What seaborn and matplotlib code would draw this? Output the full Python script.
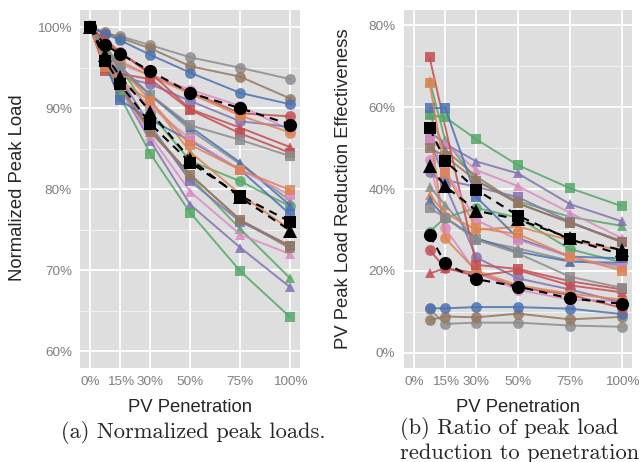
import matplotlib
matplotlib.use("Agg")
import matplotlib.pyplot as plt
import numpy as np
import pandas as pd
import seaborn as sns

# ---------------- data ----------------
pen_left = [0, 7.5, 15, 30, 50, 75, 100]
pen_right = [7.5, 15, 30, 50, 75, 100]
xtick_pos = [0, 15, 30, 50, 75, 100]
xtick_labels = ["0%", "15%", "30%", "50%", "75%", "100%"]
ytick_left = [60, 70, 80, 90, 100]
ytick_right = [0, 20, 40, 60, 80]

# normalized peak load (%) at pen_left
norm_gray_o   = [100, 99.2, 98.9, 97.8, 96.3, 95.0, 93.6]
norm_brown_o  = [100, 99.4, 98.7, 97.4, 95.2, 93.9, 91.2]
norm_blue_o   = [100, 99.2, 98.4, 96.6, 94.4, 91.9, 90.5]
norm_red_o    = [100, 98.1, 96.9, 94.2, 92.0, 89.4, 89.0]
norm_pink_o   = [100, 96.5, 95.4, 94.1, 92.3, 90.3, 87.3]
norm_purple_o = [100, 96.7, 93.9, 93.0, 90.9, 88.4, 87.7]
norm_green_o  = [100, 97.8, 95.1, 89.4, 83.5, 81.0, 77.9]
norm_orange_o = [100, 95.9, 95.8, 94.0, 91.8, 89.1, 87.0]
norm_gray_t   = [100, 97.0, 94.6, 91.7, 87.3, 83.1, 78.6]
norm_orange_t = [100, 97.1, 94.9, 91.0, 84.6, 79.4, 75.0]
norm_green_t  = [100, 95.0, 92.2, 87.4, 81.5, 75.1, 69.0]
norm_red_t    = [100, 98.5, 96.9, 94.4, 89.9, 87.6, 85.2]
norm_blue_t   = [100, 97.2, 95.1, 91.6, 87.7, 83.3, 78.0]
norm_purple_t = [100, 96.0, 92.4, 86.0, 78.1, 72.8, 67.9]
norm_pink_t   = [100, 96.2, 92.3, 86.6, 79.7, 74.4, 72.0]
norm_brown_t  = [100, 95.6, 92.6, 87.1, 81.8, 76.2, 72.7]
norm_red_s    = [100, 94.6, np.nan, 93.6, 89.8, 86.9, 84.5]
norm_green_s  = [100, 95.7, 91.4, 84.4, 77.1, 69.9, 64.2]
norm_blue_s   = [100, 95.5, 91.0, 88.6, 86.0, 82.4, 76.9]
norm_purple_s = [100, 96.1, 93.7, 87.9, 81.0, 76.0, 73.0]
norm_pink_s   = [100, 96.1, 93.3, 90.3, 86.2, 82.4, 79.3]
norm_brown_s  = [100, 96.3, 92.8, 87.4, 81.8, 76.2, 73.0]
norm_gray_s   = [100, 97.4, 95.1, 91.7, 87.9, 86.1, 84.1]
norm_orange_s = [100, 95.1, 93.4, 90.9, 85.5, 82.4, 79.9]
norm_mean_o   = [100, 97.8, 96.7, 94.6, 91.9, 90.0, 88.0]
norm_mean_t   = [100, 96.6, 93.9, 89.6, 83.7, 79.0, 74.9]
norm_mean_s   = [100, 95.9, 93.0, 88.1, 83.3, 79.2, 76.0]

# peak load reduction effectiveness (%) at pen_right
eff_gray_o   = [10.7, 7.1, 7.4, 7.4, 6.7, 6.4]
eff_brown_o  = [8.0, 8.9, 8.7, 9.6, 8.2, 8.8]
eff_blue_o   = [10.9, 10.9, 11.2, 11.2, 10.8, 9.5]
eff_red_o    = [25.1, 20.7, 19.5, 16.0, 14.2, 11.0]
eff_pink_o   = [47.0, 30.4, 19.6, 15.4, 13.0, 12.7]
eff_purple_o = [44.2, 41.0, 23.3, 18.2, 15.5, 12.3]
eff_green_o  = [29.6, 33.0, 35.4, 33.0, 25.3, 22.1]
eff_orange_o = [55.0, 28.0, 20.0, 16.5, 14.5, 13.0]
eff_gray_t   = [40.6, 36.1, 27.6, 25.5, 22.5, 21.4]
eff_orange_t = [38.5, 34.1, 30.0, 30.8, 27.5, 25.0]
eff_green_t  = [66.4, 52.0, 42.0, 37.0, 33.2, 31.0]
eff_red_t    = [19.4, 20.7, 18.8, 20.2, 16.5, 14.8]
eff_blue_t   = [37.3, 33.0, 28.0, 24.7, 22.3, 22.0]
eff_purple_t = [54.0, 51.0, 46.7, 43.8, 36.3, 32.1]
eff_pink_t   = [50.5, 51.1, 44.6, 40.7, 34.2, 28.0]
eff_brown_t  = [58.3, 49.5, 43.0, 36.5, 31.8, 27.3]
eff_red_s    = [72.1, np.nan, 21.5, 20.5, 17.5, 15.5]
eff_green_s  = [58.0, 57.5, 52.1, 45.8, 40.2, 35.8]
eff_blue_s   = [59.7, 59.8, 38.0, 28.0, 23.5, 23.1]
eff_purple_s = [52.0, 42.2, 40.5, 38.0, 32.0, 27.0]
eff_pink_s   = [52.2, 44.5, 32.4, 27.6, 23.5, 20.7]
eff_brown_s  = [50.0, 48.0, 42.0, 36.5, 31.8, 27.0]
eff_gray_s   = [35.4, 33.0, 27.6, 24.3, 18.6, 15.9]
eff_orange_s = [65.8, 44.0, 30.5, 29.0, 23.5, 20.1]
eff_mean_o   = [28.8, 21.9, 18.0, 16.2, 13.3, 12.0]
eff_mean_t   = [45.6, 40.7, 34.7, 32.6, 28.0, 25.1]
eff_mean_s   = [54.8, 46.9, 39.8, 33.5, 27.7, 24.0]

colors = {
    "blue": "#4C72B0", "orange": "#DD8452", "green": "#55A868", "red": "#C44E52",
    "purple": "#8172B3", "brown": "#937860", "pink": "#DA8BC3", "gray": "#8C8C8C",
    "mean": "#000000",
}

series = [
    ("gray", "o", norm_gray_o, eff_gray_o), ("brown", "o", norm_brown_o, eff_brown_o),
    ("blue", "o", norm_blue_o, eff_blue_o), ("red", "o", norm_red_o, eff_red_o),
    ("pink", "o", norm_pink_o, eff_pink_o), ("purple", "o", norm_purple_o, eff_purple_o),
    ("green", "o", norm_green_o, eff_green_o), ("orange", "o", norm_orange_o, eff_orange_o),
    ("gray", "^", norm_gray_t, eff_gray_t), ("orange", "^", norm_orange_t, eff_orange_t),
    ("green", "^", norm_green_t, eff_green_t), ("red", "^", norm_red_t, eff_red_t),
    ("blue", "^", norm_blue_t, eff_blue_t), ("purple", "^", norm_purple_t, eff_purple_t),
    ("pink", "^", norm_pink_t, eff_pink_t), ("brown", "^", norm_brown_t, eff_brown_t),
    ("red", "s", norm_red_s, eff_red_s), ("green", "s", norm_green_s, eff_green_s),
    ("blue", "s", norm_blue_s, eff_blue_s), ("purple", "s", norm_purple_s, eff_purple_s),
    ("pink", "s", norm_pink_s, eff_pink_s), ("brown", "s", norm_brown_s, eff_brown_s),
    ("gray", "s", norm_gray_s, eff_gray_s), ("orange", "s", norm_orange_s, eff_orange_s),
]
means = [("mean", "o", norm_mean_o, eff_mean_o), ("mean", "^", norm_mean_t, eff_mean_t),
         ("mean", "s", norm_mean_s, eff_mean_s)]

def long_table(items, which):
    rows = []
    for i, (c, m, nrm, eff) in enumerate(items):
        xs, ys = (pen_left, nrm) if which == "norm" else (pen_right, eff)
        for x, y in zip(xs, ys):
            if not np.isnan(y):
                rows.append({"sid": f"{c}{m}{i}", "color": c, "marker": m, "pen": x, "val": y})
    return pd.DataFrame(rows)

# ---------------- figure ----------------
sns.set_style("white")
plt.rcParams["font.family"] = ["Liberation Sans", "DejaVu Sans"]
W, H = 641, 462
fig = plt.figure(figsize=(W / 100, H / 100), dpi=100)

def px_axes(x0, x1, y0, y1):
    return fig.add_axes([x0 / W, 1 - y1 / H, (x1 - x0) / W, (y1 - y0) / H])

ax1 = px_axes(80.3, 300.3, 10, 368)
ax2 = px_axes(403.6, 632.4, 10, 368)

def draw(ax, which):
    df = long_table(series, which)
    for sid, g in df.groupby("sid", sort=False):
        m = g["marker"].iloc[0]
        sns.lineplot(data=g, x="pen", y="val", ax=ax, color=colors[g["color"].iloc[0]],
                     marker=m, markersize=7.8 if m != "s" else 7.0,
                     markeredgewidth=0, linewidth=1.4, alpha=0.85, sort=False,
                     estimator=None, legend=False, zorder=3)
    dfm = long_table(means, which)
    for sid, g in dfm.groupby("sid", sort=False):
        m = g["marker"].iloc[0]
        sns.lineplot(data=g, x="pen", y="val", ax=ax, color="black",
                     marker=m, markersize=9.5 if m != "s" else 8.5,
                     markeredgewidth=0, linewidth=1.5, linestyle=(0, (4, 3)), sort=False,
                     estimator=None, legend=False, zorder=4)

draw(ax1, "norm")
draw(ax2, "eff")

def style(ax, yticks, ylim, minor):
    ax.set_facecolor("#DEDEDE")
    ax.set_xlim(-5, 105)
    ax.set_ylim(*ylim)
    ax.set_xticks(xtick_pos)
    ax.set_xticklabels(xtick_labels)
    ax.set_yticks(yticks)
    ax.set_yticklabels([f"{v}%" for v in yticks])
    ax.set_yticks(minor, minor=True)
    ax.grid(True, which="major", color="white", linewidth=1.3, zorder=0)
    ax.grid(True, which="minor", axis="y", color="#F2F2F2", linewidth=0.7, zorder=0)
    ax.set_axisbelow(True)
    for s in ax.spines.values():
        s.set_visible(False)
    ax.tick_params(axis="both", which="major", direction="out", length=3.5, width=0.9,
                   color="#7F7F7F", labelcolor="#7F7F7F", labelsize=9.7, pad=2.5)
    ax.tick_params(axis="y", which="minor", length=0)
    ax.set_xlabel("")
    ax.set_ylabel("")

style(ax1, ytick_left, (57.94, 102.14), [65, 75, 85, 95])
style(ax2, ytick_right, (-3.66, 83.66), [10, 30, 50, 70])

fig.text(18 / W, 1 - 188 / H, "Normalized Peak Load", rotation=90, ha="center", va="center", fontsize=13.3)
fig.text(343 / W, 1 - 189 / H, "PV Peak Load Reduction Effectiveness", rotation=90, ha="center", va="center", fontsize=13.3)
fig.text(190 / W, 1 - 407 / H, "PV Penetration", ha="center", va="center", fontsize=13.3)
fig.text(518 / W, 1 - 407 / H, "PV Penetration", ha="center", va="center", fontsize=13.3)

fig.text(193 / W, 1 - 432 / H, "(a) Normalized peak loads.", ha="center", va="center",
         fontsize=16.2, family="cmr10")
fig.text(400 / W, 1 - 428 / H, "(b) Ratio of peak load", ha="left", va="center",
         fontsize=16.2, family="cmr10")
fig.text(400 / W, 1 - 453 / H, "reduction to penetration", ha="left", va="center",
         fontsize=16.2, family="cmr10")

fig.savefig("out.png", dpi=100)
